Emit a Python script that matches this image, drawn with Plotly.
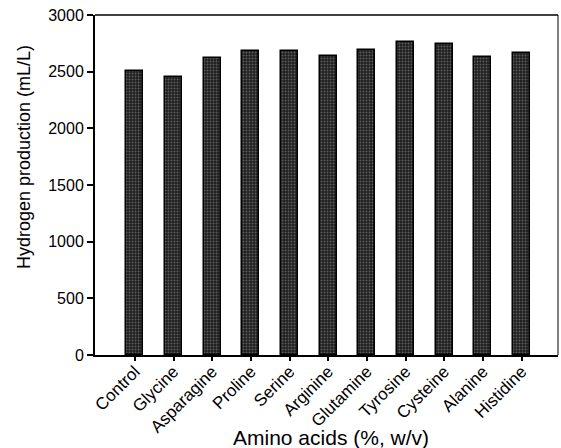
import plotly.graph_objects as go

categories = ["Control", "Glycine", "Asparagine", "Proline", "Serine", "Arginine",
              "Glutamine", "Tyrosine", "Cysteine", "Alanine", "Histidine"]
hydrogen = [2510, 2450, 2620, 2680, 2685, 2640, 2695, 2760, 2745, 2630, 2665]
y_ticks = [0, 500, 1000, 1500, 2000, 2500, 3000]

fig = go.Figure(go.Bar(
    x=categories, y=hydrogen, width=0.44,
    marker=dict(color="#1e1e1e", line=dict(color="black", width=1.5),
                pattern=dict(shape=".", fgcolor="#5c5c5c", bgcolor="#1e1e1e",
                             size=3, solidity=0.35, fillmode="replace")),
))

font = "Liberation Sans, Arial, sans-serif"
fig.update_layout(
    width=561, height=448,
    margin=dict(l=95, r=3, t=15, b=93),
    plot_bgcolor="white", paper_bgcolor="white",
    font=dict(family=font, color="black", size=16),
    showlegend=False, bargap=0,
)
fig.update_xaxes(
    range=[-1.03, 10.94], showline=True, linecolor="black", linewidth=2, mirror=False,
    ticks="outside", ticklen=4, tickwidth=1.5, tickcolor="black", tickangle=-45,
    tickfont=dict(size=17), automargin=False, ticklabelstandoff=-6,
    showgrid=False,
)
fig.update_yaxes(
    range=[0, 3000], tickvals=y_ticks, showline=True, linecolor="black", linewidth=2,
    ticks="outside", ticklen=6, tickwidth=2, tickcolor="black",
    tickfont=dict(size=16), automargin=False,
    showgrid=False, zeroline=False,
)
# axis titles placed as in the reference
fig.add_annotation(text="Amino acids (%, w/v)", xref="paper", yref="paper",
                   x=0.51, y=0, xanchor="center", yanchor="middle", yshift=-82,
                   showarrow=False, font=dict(size=21))
fig.add_annotation(text="Hydrogen production (mL/L)", xref="paper", yref="paper",
                   x=0, y=0.582, xanchor="center", yanchor="middle", xshift=-71,
                   textangle=-90, showarrow=False, font=dict(size=18))
# thin top and right frame
fig.add_shape(type="line", xref="paper", yref="paper", x0=0, x1=1, y0=1, y1=1,
              line=dict(color="black", width=1.5))
fig.add_shape(type="line", xref="paper", yref="paper", x0=1, x1=1, y0=0, y1=1,
              line=dict(color="black", width=1))

fig.write_html("out.html", config={"displayModeBar": False},
               post_script="document.body.style.margin='0';document.body.style.padding='0';document.body.style.overflow='hidden';")
